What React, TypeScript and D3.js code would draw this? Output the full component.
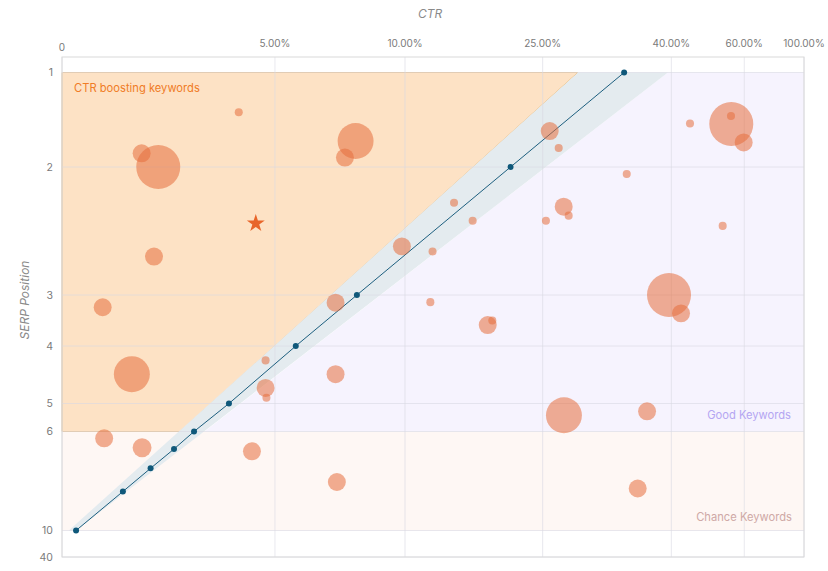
import React from 'react';
import * as d3 from 'd3';

const W = 828;
const H = 571;
const margin = { top: 57, right: 24, bottom: 14, left: 62 };

// CTR axis (top) — uneven steps, so a piecewise scale
const ctrTicks = [0, 5, 10, 25, 40, 60, 100];
const ctrStops = [0, 0.287, 0.4623, 0.6478, 0.8212, 0.9195, 1];

// SERP position axis (left)
const posTicks = [1, 2, 3, 4, 5, 6, 10, 40];
const posDomain = [1, 2, 3, 4, 5, 6, 7, 8, 9, 10, 40];
const posStops = [0.031, 0.22, 0.476, 0.578, 0.693, 0.749, 0.784, 0.8226, 0.869, 0.947, 1];

// expected CTR by position
const benchPos = [1, 2, 3, 4, 5, 6, 7, 8, 9, 10];
const benchCtr = [34.5, 21.5, 8.15, 5.8, 3.92, 3.1, 2.63, 2.08, 1.43, 0.33];

// keywords: ctr (%), position, search volume
const kwCtr = [4.15, 1.87, 2.26, 2.16, 0.955, 1.64, 0.99, 1.88, 4.46, 4.78, 4.8, 4.78, 7.33, 7.33, 9.88, 13.0, 12.76, 8.1, 7.69, 15.34,
  17.37, 25.82, 26.87, 25.38, 27.45, 28.03, 34.8, 45.12, 56.44, 56.36, 59.84, 54.08, 39.73, 42.66, 19.01, 19.51, 27.48, 37.17, 36.08, 7.38];
const kwPos = [1.42, 1.855, 2.0, 2.7, 3.24, 4.49, 6.39, 6.93, 7.12, 4.73, 4.9, 4.25, 3.15, 4.49, 2.62, 2.66, 3.14, 1.725, 1.9, 2.28,
  2.42, 1.62, 1.8, 2.42, 2.31, 2.38, 2.055, 1.54, 1.545, 1.46, 1.74, 2.46, 3.0, 3.36, 3.59, 3.5, 5.42, 5.28, 8.87, 8.59];
const kwVolume = [20, 100, 600, 100, 100, 400, 100, 110, 100, 100, 20, 20, 100, 100, 100, 20, 20, 400, 100, 20,
  20, 100, 20, 20, 100, 20, 20, 20, 600, 20, 100, 20, 600, 100, 100, 20, 400, 100, 100, 100];

// highlighted keyword
const starCtr = 4.55;
const starPos = 2.44;

// zones (ctr, position corners)
const boostCtr = [0, 29.1, 2.77, 0];
const boostPos = [1, 1, 6, 6];
const goodCtr = [39.6, 100, 100, 3.35];
const goodPos = [1, 1, 6, 6];
const bandCtr = [29.1, 39.6, 0.33, 0.16];
const bandPos = [1, 1, 10, 10];
const chanceCtr = [0, 100, 100, 0];
const chancePos = [6, 6, 10, 10];

const FONT = 'Inter, "Noto Sans", sans-serif';

export default function App() {
  const iw = W - margin.left - margin.right;
  const ih = H - margin.top - margin.bottom;

  const x = d3.scaleLinear().domain(ctrTicks).range(ctrStops.map(f => f * iw));
  const y = d3.scaleLinear().domain(posDomain).range(posStops.map(f => f * ih));
  const r = d3.scaleSqrt().domain([0, 600]).range([0, 22]);

  const poly = (cs: number[], ps: number[]) =>
    (d3.line()(cs.map((c, i) => [x(c), y(ps[i])] as [number, number])) || '') + 'Z';

  const benchLine = d3.line<number>()
    .x((_, i) => x(benchCtr[i]))
    .y(d => y(d));

  const star = d3.symbol().type(d3.symbolStar).size(100)();

  return (
    <svg width={W} height={H} style={{ position: 'absolute', left: 0, top: 0, fontFamily: FONT }}>
      <text x={430} y={18} textAnchor="middle" fontSize={12} fontStyle="italic" fill="#8a8a8a">CTR</text>
      <text transform={`translate(29,${margin.top + ih * 0.486}) rotate(-90)`} textAnchor="middle" fontSize={12} fontStyle="italic" fill="#8a8a8a">SERP Position</text>
      <g transform={`translate(${margin.left},${margin.top})`}>
        <path d={poly(chanceCtr, chancePos)} fill="#fef7f4" />
        <path d={poly(goodCtr, goodPos)} fill="#f6f3fe" />
        <path d={poly(boostCtr, boostPos)} fill="#fde2c5" stroke="#eeb970" strokeWidth={1} />
        <path d={poly(bandCtr, bandPos)} fill="#e4ebef" />

        {ctrTicks.map(t => (
          <line key={'vx' + t} x1={x(t)} x2={x(t)} y1={0} y2={ih} stroke="#d8d8e2" strokeOpacity={0.6} />
        ))}
        {posTicks.map(t => (
          <line key={'hy' + t} x1={0} x2={iw} y1={y(t)} y2={y(t)} stroke="#d8d8e2" strokeOpacity={0.6} />
        ))}
        <rect x={0} y={0} width={iw} height={ih} fill="none" stroke="#dadada" />

        {ctrTicks.map(t => (
          <text key={'tx' + t} x={x(t)} y={t === 0 ? -6 : -10} textAnchor="middle" fontSize={10} fill="#7a7a7a">
            {t === 0 ? '0' : t.toFixed(2) + '%'}
          </text>
        ))}
        {posTicks.map(t => (
          <text key={'ty' + t} x={-9} y={y(t)} dy="0.35em" textAnchor="end" fontSize={10.5} fill="#7a7a7a">{t}</text>
        ))}

        <path d={benchLine(benchPos) || ''} fill="none" stroke="#1d5f7f" strokeWidth={1} />
        {benchPos.map((p, i) => (
          <circle key={'b' + p} cx={x(benchCtr[i])} cy={y(p)} r={3} fill="#0f587a" />
        ))}

        {kwCtr.map((c, i) => (
          <circle key={'k' + i} cx={x(c)} cy={y(kwPos[i])} r={r(kwVolume[i])} fill="rgb(230,110,60)" fillOpacity={0.55} />
        ))}

        <path d={star || ''} transform={`translate(${x(starCtr)},${y(starPos)})`} fill="#e8652a" />

        <text x={x(0) + 12} y={y(1) + 19} fontSize={11.2} fill="#f07c26">CTR boosting keywords</text>
        <text x={iw - 13} y={y(5) + 15} textAnchor="end" fontSize={11.2} fill="#b4a6f2">Good Keywords</text>
        <text x={iw - 12} y={y(10) - 10} textAnchor="end" fontSize={11.2} fill="#cfa9a6">Chance Keywords</text>
      </g>
    </svg>
  );
}
